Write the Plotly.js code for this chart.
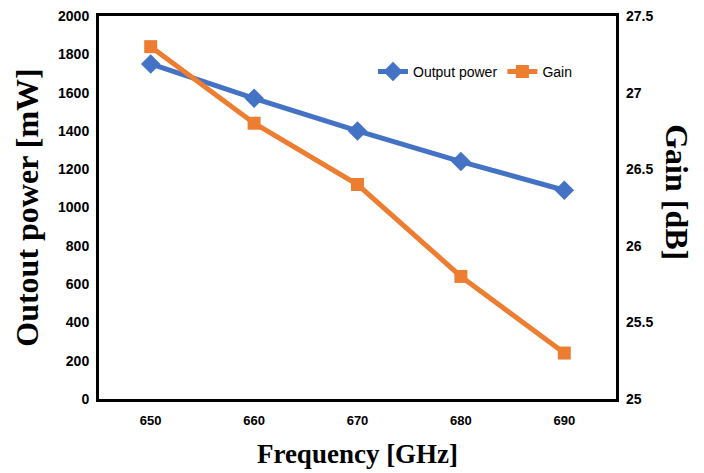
<!DOCTYPE html>
<html>
<head>
<meta charset="utf-8">
<script src="https://cdn.plot.ly/plotly-3.0.1.min.js"></script>
<style>html,body{margin:0;padding:0;background:#fff;}#chart{width:704px;height:473px;}</style>
</head>
<body>
<div id="chart"></div>
<script>
var frequencies = ["650", "660", "670", "680", "690"];
var outputPower = [1750, 1570, 1400, 1240, 1090];
var gain = [27.3, 26.8, 26.4, 25.8, 25.3];
var powerTicks = [0, 200, 400, 600, 800, 1000, 1200, 1400, 1600, 1800, 2000];
var gainTicks = [25, 25.5, 26, 26.5, 27, 27.5];
var gainTickText = ["25", "25.5", "26", "26.5", "27", "27.5"];

var tickFont = {family: "Liberation Sans Narrow, Liberation Sans, Arial, sans-serif", size: 14, color: "#000", weight: "bold"};
var titleFont = {family: "Liberation Serif, Times New Roman, serif", size: 27, color: "#000", weight: "bold"};
var sideTitleFont = {family: "Liberation Serif, Times New Roman, serif", size: 32, color: "#000", weight: "bold"};

var traces = [
  {
    x: frequencies, y: outputPower, name: "Output power", type: "scatter", mode: "lines+markers",
    line: {color: "#4472C4", width: 5},
    marker: {symbol: "diamond", size: 15, color: "#4472C4"},
    yaxis: "y"
  },
  {
    x: frequencies, y: gain, name: "Gain", type: "scatter", mode: "lines+markers",
    line: {color: "#ED7D31", width: 5},
    marker: {symbol: "square", size: 13, color: "#ED7D31"},
    yaxis: "y2"
  }
];

var layout = {
  width: 704, height: 473,
  margin: {l: 99, r: 88, t: 16, b: 74},
  paper_bgcolor: "#fff", plot_bgcolor: "#fff",
  showlegend: true,
  legend: {
    orientation: "h", x: 0.53, y: 0.854, xanchor: "left", yanchor: "middle",
    font: {family: "Liberation Sans Narrow, Liberation Sans, Arial, sans-serif", size: 14, color: "#000"},
    bgcolor: "rgba(0,0,0,0)", itemwidth: 30
  },
  xaxis: {
    type: "category", range: [-0.5, 4.5],
    showline: true, linecolor: "#000", linewidth: 3, mirror: true,
    showgrid: false, zeroline: false, ticks: "", ticklabelstandoff: 7,
    tickfont: {family: "Liberation Sans, Arial, sans-serif", size: 13, color: "#000", weight: "bold"},
    title: {text: "Frequency [GHz]", font: titleFont, standoff: 18}
  },
  yaxis: {
    range: [0, 2000], tickvals: powerTicks,
    showline: true, linecolor: "#000", linewidth: 3, mirror: true,
    showgrid: false, zeroline: false, ticks: "", ticklabelstandoff: 4,
    tickfont: tickFont,
    title: {text: "Outout power [mW]", font: sideTitleFont, standoff: 10}
  },
  yaxis2: {
    range: [25, 27.5], tickvals: gainTicks, ticktext: gainTickText,
    overlaying: "y", side: "right",
    showline: false, showgrid: false, zeroline: false, ticks: "", ticklabelstandoff: 9,
    tickfont: tickFont
  },
  annotations: [
    {
      text: "Gain [dB]", textangle: 90, showarrow: false,
      xref: "paper", yref: "paper", x: 1.118, y: 0.54, xanchor: "center", yanchor: "middle",
      font: sideTitleFont
    }
  ]
};

Plotly.newPlot("chart", traces, layout, {displayModeBar: false, staticPlot: true});
</script>
</body>
</html>
